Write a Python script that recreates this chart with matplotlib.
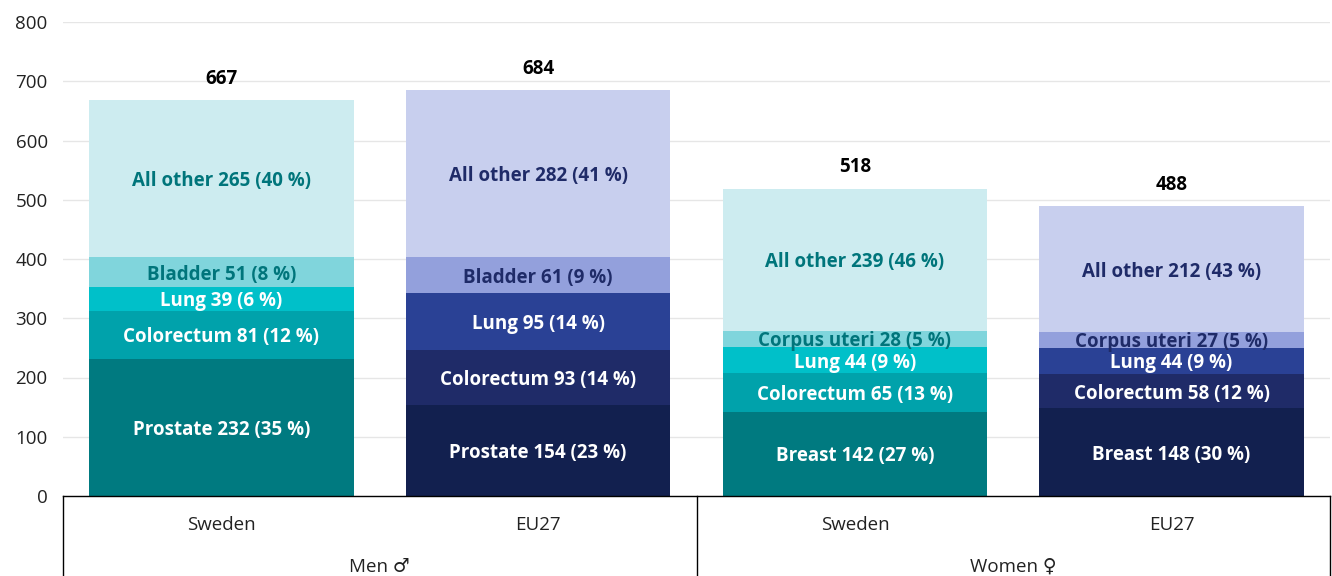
"""Stacked bars: new cancer cases per 100 000, Sweden vs EU27, by sex."""

import numpy as np
import matplotlib
matplotlib.use("Agg")
import matplotlib.pyplot as plt

plt.rcParams['font.family'] = ['Open Sans', 'DejaVu Sans']

# Data (bottom to top in each bar)
bars = ['Sweden', 'EU27', 'Sweden', 'EU27']
groups = ['Men \u2642', 'Women \u2640']
sites = [
    ['Prostate', 'Colorectum', 'Lung', 'Bladder', 'All other'],
    ['Prostate', 'Colorectum', 'Lung', 'Bladder', 'All other'],
    ['Breast', 'Colorectum', 'Lung', 'Corpus uteri', 'All other'],
    ['Breast', 'Colorectum', 'Lung', 'Corpus uteri', 'All other'],
]
values = [
    [232, 81, 39, 51, 265],
    [154, 93, 95, 61, 282],
    [142, 65, 44, 28, 239],
    [148, 58, 44, 27, 212],
]
shares = [
    [35, 12, 6, 8, 40],
    [23, 14, 14, 9, 41],
    [27, 13, 9, 5, 46],
    [30, 12, 9, 5, 43],
]
totals = [667, 684, 518, 488]

# Colours: Sweden in teal shades, EU27 in navy shades
swe_cols = ['#007a80', '#00a2ab', '#00c0c9', '#80d5dc', '#cdecf0']
eu_cols = ['#12204f', '#1f2b68', '#2a4195', '#93a0dc', '#c8cfee']
swe_text = ['white', 'white', 'white', '#00757b', '#00757b']
eu_text = ['white', 'white', 'white', '#1f2b68', '#1f2b68']

fig = plt.figure(figsize=(13.32, 5.76), dpi=100)
ax = fig.add_axes([63 / 1332, 80 / 576, 1267 / 1332, 474 / 576])

x = np.arange(len(bars))
width = 0.835
fs = 13.5
for i in range(len(bars)):
    cols = swe_cols if bars[i] == 'Sweden' else eu_cols
    tcols = swe_text if bars[i] == 'Sweden' else eu_text
    bottom = 0
    for j, v in enumerate(values[i]):
        ax.bar(x[i], v, width, bottom=bottom, color=cols[j], linewidth=0, zorder=2)
        ax.annotate(f'{sites[i][j]} {v} ({shares[i][j]} %)', (x[i], bottom + v / 2),
                    xytext=(0, -1.8), textcoords='offset points',
                    ha='center', va='center', color=tcols[j],
                    fontsize=fs, fontweight='bold', zorder=3)
        bottom += v
    ax.annotate(str(totals[i]), (x[i], totals[i] + 40), xytext=(0, -1.5),
                textcoords='offset points', ha='center', va='center',
                fontsize=fs, fontweight='bold', color='black')

ax.set_xlim(-0.5, len(bars) - 0.5)
ax.set_ylim(0, 800)
ax.set_yticks(range(0, 801, 100))
ax.tick_params(axis='y', length=0, labelsize=fs, labelcolor='#222222', pad=11)
ax.tick_params(axis='x', length=0, labelbottom=False)
ax.grid(axis='y', color='#e6e6e6', linewidth=1, zorder=0)
ax.set_axisbelow(True)
for s in ['top', 'right', 'left']:
    ax.spines[s].set_visible(False)
ax.spines['bottom'].set_color('black')
ax.spines['bottom'].set_linewidth(1)

# Grouped category axis drawn as a box under the plot
depth = -80 / 474
for xv in [-0.5, 1.5, 3.5]:
    ax.plot([xv, xv], [0, depth], color='black', linewidth=1,
            transform=ax.get_xaxis_transform(), clip_on=False)
for i, b in enumerate(bars):
    ax.text(x[i], -29 / 474, b, ha='center', va='center', fontsize=fs,
            color='#222222', transform=ax.get_xaxis_transform())
for g, name in enumerate(groups):
    ax.text(2 * g + 0.5, -70.5 / 474, name, ha='center', va='center', fontsize=fs,
            color='#222222', transform=ax.get_xaxis_transform())

fig.savefig('out.png', dpi=100)
